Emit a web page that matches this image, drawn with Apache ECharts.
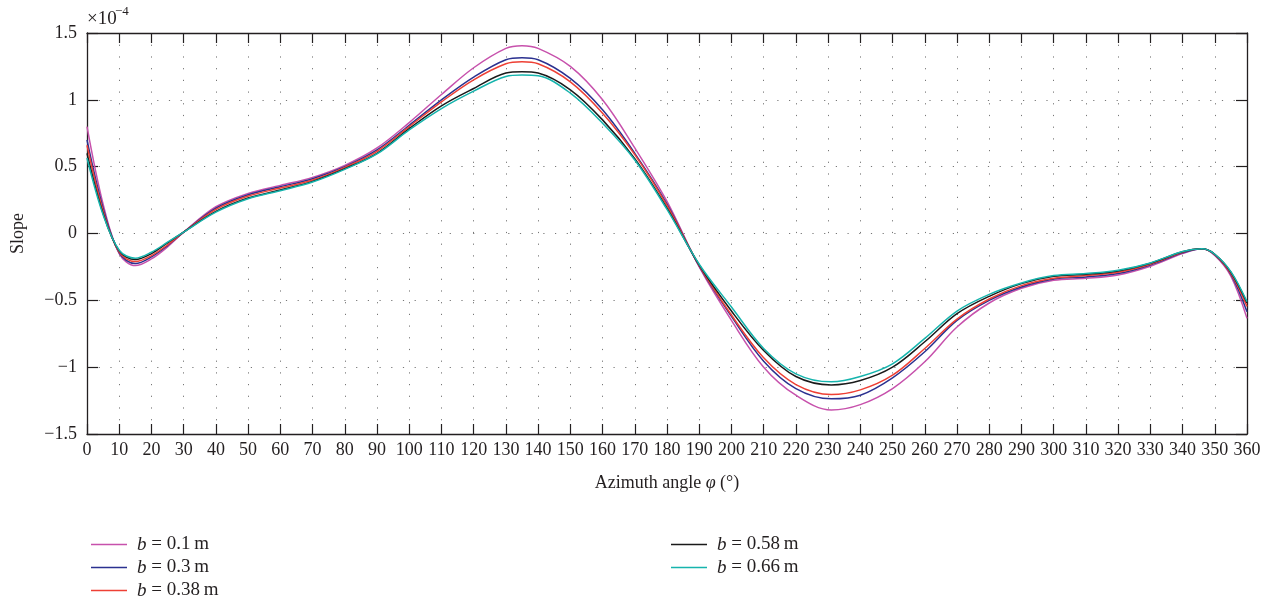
<!DOCTYPE html>
<html>
<head>
<meta charset="utf-8">
<script src="https://cdn.jsdelivr.net/npm/echarts@6/dist/echarts.min.js"></script>
<style>html,body{margin:0;padding:0;background:#fff;}#chart{width:1274px;height:596px;}</style>
</head>
<body>
<div id="chart"></div>
<script>
// Azimuth angles (degrees)
const angles = [0,5,10,15,20,25,30,40,50,60,70,80,90,100,110,120,130,135,140,150,160,170,180,190,200,210,220,231,240,250,260,270,280,290,300,310,320,330,340,346,350,355,360];
// Slope values (×10^-4)
const b010 = [0.80,0.22,-0.15,-0.24,-0.19,-0.10,0.01,0.20,0.30,0.36,0.42,0.51,0.64,0.83,1.04,1.24,1.385,1.405,1.385,1.25,1.00,0.64,0.24,-0.25,-0.65,-1.00,-1.21,-1.32,-1.28,-1.16,-0.96,-0.70,-0.52,-0.41,-0.35,-0.335,-0.31,-0.245,-0.15,-0.115,-0.165,-0.32,-0.635];
const b030 = [0.70,0.19,-0.145,-0.225,-0.175,-0.09,0.01,0.19,0.29,0.35,0.41,0.50,0.625,0.81,1.00,1.17,1.30,1.315,1.30,1.16,0.925,0.60,0.22,-0.245,-0.62,-0.955,-1.16,-1.237,-1.21,-1.08,-0.885,-0.65,-0.50,-0.40,-0.34,-0.325,-0.30,-0.235,-0.145,-0.115,-0.16,-0.305,-0.585];
const b038 = [0.66,0.17,-0.14,-0.21,-0.165,-0.085,0.01,0.18,0.28,0.34,0.40,0.495,0.615,0.80,0.985,1.15,1.27,1.285,1.27,1.135,0.90,0.59,0.21,-0.24,-0.61,-0.93,-1.13,-1.205,-1.17,-1.06,-0.86,-0.64,-0.49,-0.39,-0.335,-0.315,-0.29,-0.23,-0.14,-0.115,-0.158,-0.30,-0.545];
const b058 = [0.60,0.15,-0.13,-0.195,-0.15,-0.07,0.01,0.165,0.265,0.325,0.39,0.485,0.60,0.785,0.955,1.085,1.20,1.21,1.20,1.075,0.85,0.56,0.19,-0.235,-0.58,-0.875,-1.07,-1.133,-1.10,-1.00,-0.81,-0.60,-0.47,-0.375,-0.32,-0.305,-0.28,-0.222,-0.137,-0.115,-0.155,-0.29,-0.52];
const b066 = [0.565,0.14,-0.125,-0.185,-0.14,-0.065,0.01,0.16,0.26,0.32,0.385,0.48,0.595,0.775,0.935,1.065,1.175,1.186,1.18,1.05,0.825,0.55,0.18,-0.23,-0.55,-0.86,-1.05,-1.11,-1.07,-0.975,-0.785,-0.58,-0.455,-0.37,-0.315,-0.30,-0.275,-0.22,-0.135,-0.115,-0.155,-0.285,-0.51];
const seriesNames = ['b = 0.1 m','b = 0.3 m','b = 0.38 m','b = 0.58 m','b = 0.66 m'];
const seriesValues = [b010,b030,b038,b058,b066];
const seriesColors = ['#c751ac','#2b3190','#ee4035','#1a1a1a','#16b4ad'];

const FONT = 'Liberation Serif';
const TXT = '#231f20';

const chart = echarts.init(document.getElementById('chart'));
const series = seriesNames.map((n,i)=>({
  name: n, type: 'line', xAxisIndex: 0, yAxisIndex: 0,
  data: angles.map((a,j)=>[a, seriesValues[i][j]]),
  smooth: 0.35, symbol: 'none', showSymbol: false,
  lineStyle: {color: seriesColors[i], width: 1.5},
  itemStyle: {color: seriesColors[i]},
  z: 3 + i
}));

// legend placement: column-major, two columns
const legendPos = [[86,530],[86,553],[86,576],[666,530],[666,553]];
const legends = seriesNames.map((n,i)=>({
  left: legendPos[i][0], top: legendPos[i][1], data: [n],
  icon: 'rect', itemWidth: 36, itemHeight: 1.4,
  formatter: s => '{i|b}' + s.slice(1).replace(' m', '\u2009m'),
  textStyle: {fontFamily: FONT, fontSize: 19, color: TXT, padding: [0,0,0,5],
    rich: {i: {fontFamily: FONT, fontSize: 19, fontStyle: 'italic', color: TXT}}},
  selectedMode: false
}));

const gridDots = {color: '#777', width: 1, type: [1.2, 10.5]};
const axisBlack = {color: '#231f20', width: 1.3};

chart.setOption({
  animation: false,
  backgroundColor: '#fff',
  grid: {left: 87, right: 27, top: 33, height: 401, containLabel: false},
  xAxis: [{
    type: 'value', min: 0, max: 360, interval: 10, position: 'bottom',
    name: '{n|Azimuth angle }{p|φ}{n| (°)}', nameLocation: 'middle', nameGap: 40,
    nameTextStyle: {rich: {n: {fontFamily: FONT, fontSize: 18, color: TXT}, p: {fontFamily: FONT, fontSize: 18, fontStyle: 'italic', color: TXT}}},
    axisLine: {show: true, onZero: false, lineStyle: axisBlack},
    axisTick: {show: true, inside: true, length: 10, lineStyle: {color: '#231f20', width: 1.2}},
    axisLabel: {fontFamily: FONT, fontSize: 18, color: TXT, margin: 7, hideOverlap: false, interval: 0},
    splitLine: {show: true, lineStyle: gridDots}
  },{
    type: 'value', min: 0, max: 360, interval: 10, position: 'top',
    axisLine: {show: true, onZero: false, lineStyle: axisBlack},
    axisTick: {show: true, inside: true, length: 10, lineStyle: {color: '#231f20', width: 1.2}},
    axisLabel: {show: false}, splitLine: {show: false}
  }],
  yAxis: [{
    type: 'value', min: -1.5, max: 1.5, interval: 0.5, position: 'left',
    name: 'Slope', nameLocation: 'middle', nameGap: 60,
    nameTextStyle: {fontFamily: FONT, fontSize: 18, color: TXT},
    axisLine: {show: true, onZero: false, lineStyle: axisBlack},
    axisTick: {show: true, inside: true, length: 11, lineStyle: {color: '#231f20', width: 1.2}},
    axisLabel: {fontFamily: FONT, fontSize: 18, color: TXT, margin: 10,
      formatter: v => String(v).replace('-', '\u2212')},
    splitLine: {show: true, lineStyle: gridDots}
  },{
    type: 'value', min: -1.5, max: 1.5, interval: 0.5, position: 'right',
    axisLine: {show: true, onZero: false, lineStyle: axisBlack},
    axisTick: {show: true, inside: true, length: 11, lineStyle: {color: '#231f20', width: 1.2}},
    axisLabel: {show: false}, splitLine: {show: false}
  }],
  legend: legends,
  graphic: [
    {type: 'text', left: 87, top: 10, style: {text: '\u00d710', fontFamily: FONT, fontSize: 19, fill: TXT}},
    {type: 'text', left: 115, top: 5, style: {text: '\u22124', fontFamily: FONT, fontSize: 13, fill: TXT}}
  ],
  series: series
});
</script>
</body>
</html>
